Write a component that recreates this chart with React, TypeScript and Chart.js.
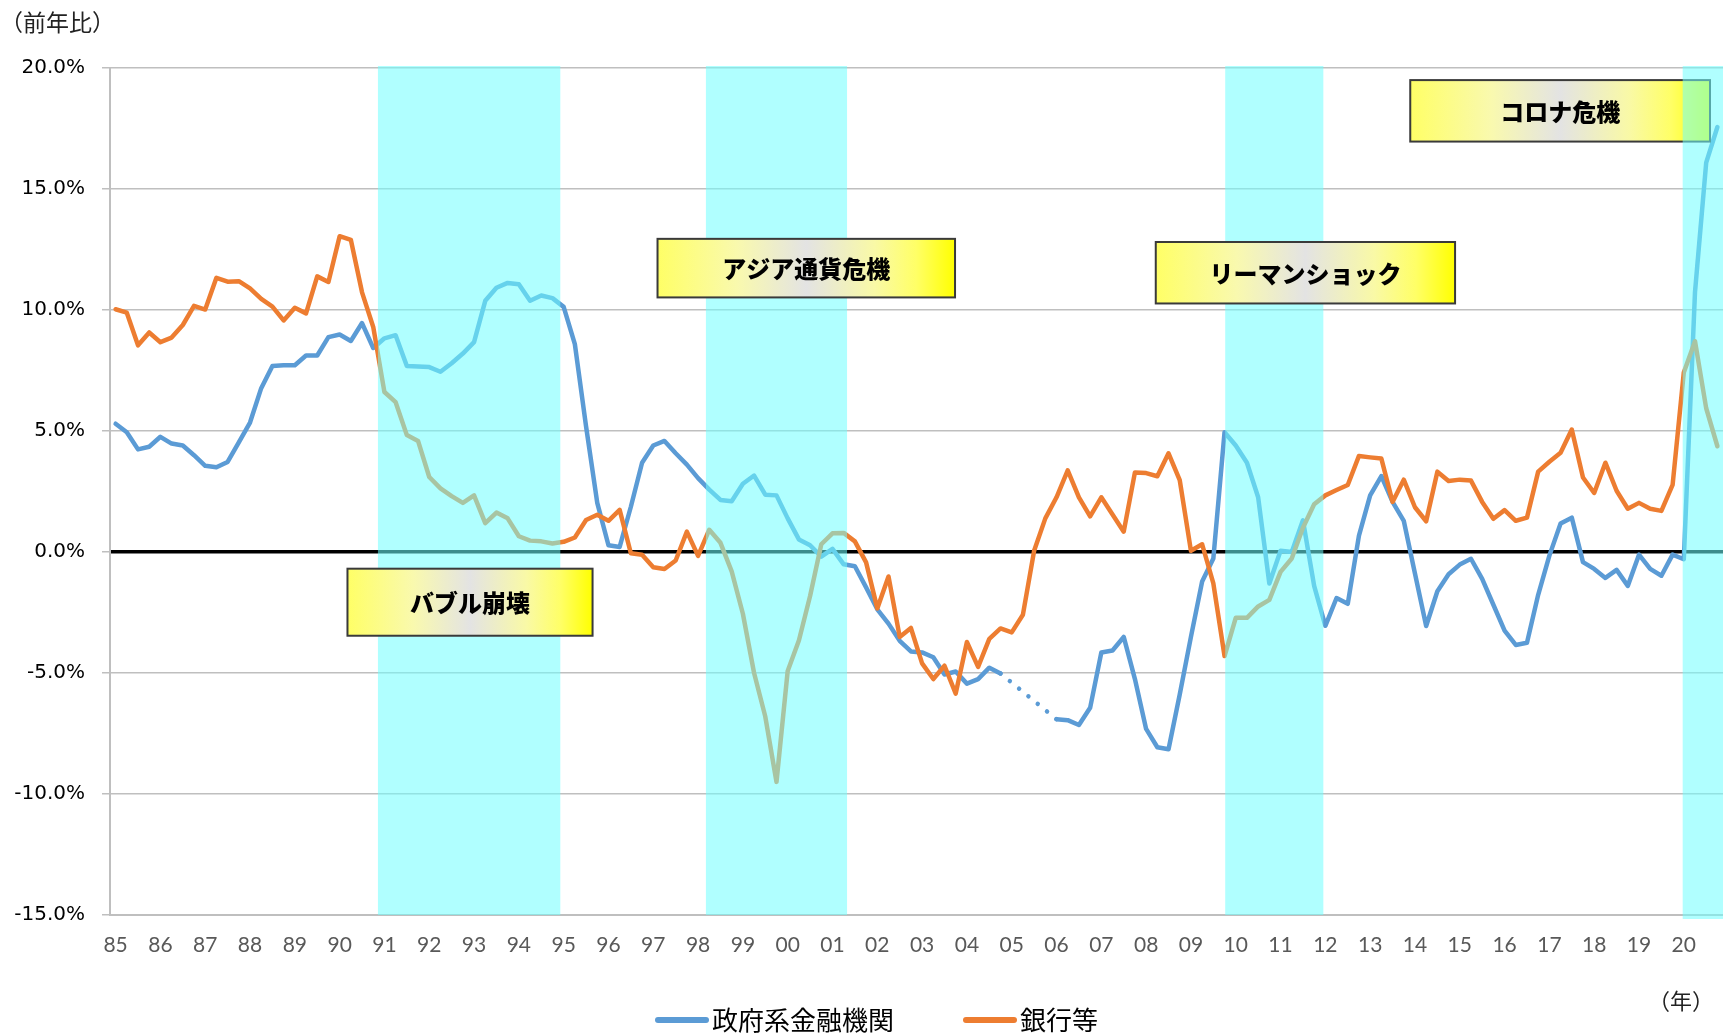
import React, { useEffect, useRef } from "react";
import { Chart, registerables } from "chart.js";

Chart.register(...registerables);

// ---------- data ----------
const yearLabels = [
  "85", "86", "87", "88", "89", "90", "91", "92", "93", "94",
  "95", "96", "97", "98", "99", "00", "01", "02", "03", "04",
  "05", "06", "07", "08", "09", "10", "11", "12", "13", "14",
  "15", "16", "17", "18", "19", "20",
];
const quarterNames = ["Q1", "Q2", "Q3", "Q4"];
const quarterLabels = yearLabels.flatMap((y) => quarterNames.map((q) => `${y}${q}`));

const govSeriesName = "政府系金融機関";
const bankSeriesName = "銀行等";

// 政府系金融機関 (year-on-year %, quarterly 1985Q1 - 2020Q4); null = no data (dotted link)
const govValues: (number | null)[] = [
  5.30, 4.95, 4.24, 4.35, 4.76, 4.48, 4.40, 4.00, 3.56, 3.50,
  3.72, 4.53, 5.35, 6.77, 7.69, 7.72, 7.72, 8.12, 8.12, 8.88,
  8.99, 8.72, 9.46, 8.43, 8.83, 8.96, 7.69, 7.67, 7.64, 7.45,
  7.80, 8.20, 8.67, 10.38, 10.92, 11.12, 11.06, 10.38, 10.60, 10.49,
  10.13, 8.59, 5.19, 2.03, 0.28, 0.21, 1.87, 3.69, 4.40, 4.59,
  4.08, 3.61, 3.05, 2.58, 2.15, 2.10, 2.82, 3.16, 2.37, 2.34,
  1.39, 0.52, 0.28, -0.19, 0.13, -0.51, -0.59, -1.46, -2.37, -2.96,
  -3.67, -4.11, -4.15, -4.35, -5.06, -4.94, -5.44, -5.25, -4.78, -5.02,
  null, null, null, null, -6.91, -6.95, -7.15, -6.44, -4.15, -4.07,
  -3.51, -5.25, -7.31, -8.07, -8.15, -5.89, -3.51, -1.22, -0.27, 4.95,
  4.40, 3.69, 2.26, -1.30, 0.05, 0.00, 1.31, -1.40, -3.05, -1.90,
  -2.14, 0.68, 2.34, 3.14, 2.07, 1.29, -0.89, -3.06, -1.62, -0.92,
  -0.52, -0.28, -1.11, -2.18, -3.25, -3.84, -3.75, -1.77, -0.15, 1.18,
  1.42, -0.42, -0.70, -1.07, -0.74, -1.40, -0.11, -0.70, -0.98, -0.11,
  -0.30, 10.74, 16.09, 17.56,
];

// 銀行等 (year-on-year %, quarterly 1985Q1 - 2020Q4)
const bankValues: number[] = [
  10.03, 9.89, 8.54, 9.07, 8.67, 8.86, 9.38, 10.17, 10.02, 11.33,
  11.17, 11.19, 10.89, 10.46, 10.14, 9.57, 10.09, 9.86, 11.39, 11.16,
  13.05, 12.90, 10.73, 9.30, 6.61, 6.19, 4.83, 4.59, 3.10, 2.63,
  2.31, 2.03, 2.34, 1.19, 1.63, 1.39, 0.65, 0.47, 0.44, 0.35,
  0.42, 0.60, 1.32, 1.54, 1.29, 1.74, -0.05, -0.11, -0.63, -0.70,
  -0.35, 0.84, -0.16, 0.92, 0.38, -0.80, -2.55, -5.00, -6.80, -9.50,
  -4.92, -3.66, -1.82, 0.32, 0.77, 0.79, 0.44, -0.43, -2.33, -1.01,
  -3.51, -3.14, -4.60, -5.25, -4.70, -5.85, -3.72, -4.75, -3.59, -3.16,
  -3.32, -2.59, 0.05, 1.39, 2.26, 3.37, 2.26, 1.47, 2.26, 1.55,
  0.84, 3.29, 3.26, 3.13, 4.08, 2.97, 0.05, 0.32, -1.30, -4.30,
  -2.72, -2.72, -2.25, -1.98, -0.82, -0.27, 1.00, 1.97, 2.34, 2.56,
  2.77, 3.97, 3.91, 3.86, 2.07, 2.99, 1.85, 1.27, 3.32, 2.93,
  2.99, 2.95, 2.07, 1.37, 1.73, 1.29, 1.42, 3.32, 3.73, 4.10,
  5.06, 3.08, 2.44, 3.69, 2.53, 1.79, 2.03, 1.79, 1.70, 2.77,
  7.42, 8.71, 5.94, 4.37,
];

// crisis periods (shaded), in fractional years
const crisisBands = [
  { from: 1990.98, to: 1995.05 },
  { from: 1998.3, to: 2001.45 },
  { from: 2009.89, to: 2012.08 },
  { from: 2020.1, to: 2021.0 },
];

// crisis labels: years on x, % values on y
const crisisLabels = [
  { text: "バブル崩壊", from: 1990.3, to: 1995.77, top: -0.69, bottom: -3.46, underShade: false },
  { text: "アジア通貨危機", from: 1997.22, to: 2003.86, top: 12.94, bottom: 10.52, underShade: false },
  { text: "リーマンショック", from: 2008.34, to: 2015.02, top: 12.81, bottom: 10.27, underShade: false },
  { text: "コロナ危機", from: 2014.02, to: 2020.71, top: 19.5, bottom: 16.96, underShade: true },
];

const yAxisTitle = "（前年比）";
const xAxisUnit = "（年）";
const firstYear = 1985;

const BLUE = "#5B9BD5";
const ORANGE = "#ED7D31";
const SHADE = "rgba(111,255,255,0.55)";
const CJK = '"Noto Sans CJK JP", "Noto Sans CJK SC", sans-serif';

const yearToIndex = (yr: number) => (yr - firstYear) * 4 - 0.5;

const overlayPlugin = {
  id: "crisisOverlay",
  afterDatasetsDraw(chart: any) {
    const { ctx, chartArea, scales } = chart;
    const x = scales.x;
    const y = scales.y;
    const px = (yr: number) => x.getPixelForValue(yearToIndex(yr));

    const drawLabel = (a: any) => {
      const x0 = px(a.from);
      const x1 = px(a.to);
      const y0 = y.getPixelForValue(a.top);
      const y1 = y.getPixelForValue(a.bottom);
      ctx.save();
      const g = ctx.createLinearGradient(x0, 0, x1, 0);
      g.addColorStop(0, "#FFFF66");
      g.addColorStop(0.27, "#F9F9AE");
      g.addColorStop(0.5, "#E3E3E3");
      g.addColorStop(0.73, "#F9F9A6");
      g.addColorStop(0.87, "#FFFF66");
      g.addColorStop(1, "#FFFF00");
      ctx.fillStyle = g;
      ctx.fillRect(x0, y0, x1 - x0, y1 - y0);
      ctx.strokeStyle = "#3A3A3A";
      ctx.lineWidth = 2;
      ctx.strokeRect(x0, y0, x1 - x0, y1 - y0);
      ctx.fillStyle = "#000";
      ctx.font = `900 24px ${CJK}`;
      ctx.textAlign = "center";
      ctx.textBaseline = "middle";
      ctx.fillText(a.text, (x0 + x1) / 2, (y0 + y1) / 2 + 1);
      ctx.restore();
    };

    crisisLabels.filter((a) => a.underShade).forEach(drawLabel);

    ctx.save();
    ctx.fillStyle = SHADE;
    crisisBands.forEach((b, k) => {
      const x0 = px(b.from);
      const x1 = Math.min(px(b.to), chartArea.right + 2);
      const top = chartArea.top - 2;
      const bottom = chartArea.bottom + (k === crisisBands.length - 1 ? 4 : 0);
      ctx.fillRect(x0, top, x1 - x0, bottom - top);
    });
    ctx.restore();

    crisisLabels.filter((a) => !a.underShade).forEach(drawLabel);
  },
  afterDraw(chart: any) {
    const { ctx } = chart;
    ctx.save();
    // axis title
    ctx.fillStyle = "#222";
    ctx.font = `23px ${CJK}`;
    ctx.textAlign = "left";
    ctx.textBaseline = "middle";
    ctx.fillText(yAxisTitle, 0, 22);
    // year unit
    ctx.font = `22px ${CJK}`;
    ctx.textAlign = "right";
    ctx.fillText(xAxisUnit, 1714, 1001);

    // legend
    ctx.font = `26px ${CJK}`;
    ctx.textAlign = "left";
    let lx = 655;
    const ly = 1020;
    chart.data.datasets.forEach((ds: any) => {
      ctx.strokeStyle = ds.borderColor;
      ctx.lineWidth = 6;
      ctx.lineCap = "round";
      ctx.beginPath();
      ctx.moveTo(lx + 3, ly);
      ctx.lineTo(lx + 51, ly);
      ctx.stroke();
      lx += 57;
      ctx.fillStyle = "#000";
      ctx.fillText(ds.label, lx, ly);
      lx += ctx.measureText(ds.label).width + 69;
    });
    ctx.restore();
  },
};

export default function App() {
  const canvasRef = useRef<HTMLCanvasElement | null>(null);

  useEffect(() => {
    document.body.style.margin = "0";
    const canvas = canvasRef.current;
    if (!canvas) return;
    const chart = new Chart(canvas, {
      type: "line",
      data: {
        labels: quarterLabels,
        datasets: [
          {
            label: govSeriesName,
            data: govValues,
            borderColor: BLUE,
            backgroundColor: BLUE,
            borderWidth: 4.5,
            pointRadius: 0,
            tension: 0,
            spanGaps: true,
            borderCapStyle: "round",
            borderJoinStyle: "round",
            order: 1,
            segment: {
              borderDash: (c: any) => (c.p0.skip || c.p1.skip ? [0.01, 12] : undefined),
            },
          } as any,
          {
            label: bankSeriesName,
            data: bankValues,
            borderColor: ORANGE,
            backgroundColor: ORANGE,
            borderWidth: 4.5,
            pointRadius: 0,
            tension: 0,
            borderCapStyle: "round",
            borderJoinStyle: "round",
            order: 0,
          } as any,
        ],
      },
      options: {
        responsive: false,
        animation: false,
        layout: { autoPadding: false, padding: { top: 68, left: 0, right: 0, bottom: 0 } },
        plugins: {
          legend: { display: false },
          tooltip: { enabled: false },
          title: { display: false },
        },
        scales: {
          x: {
            type: "category",
            offset: true,
            grid: { display: false, drawTicks: false, tickLength: 0 },
            border: { display: true, color: "#BFBFBF", width: 2 },
            ticks: {
              autoSkip: false,
              maxRotation: 0,
              minRotation: 0,
              padding: 18,
              color: "#595959",
              font: { family: "Lato", size: 21 },
              callback: (_v: any, i: number) => (i % 4 === 0 ? yearLabels[i / 4] : ""),
            },
            afterFit: (s: any) => {
              s.height = 118;
              s.paddingLeft = 0;
              s.paddingRight = 0;
            },
          },
          y: {
            min: -15,
            max: 20,
            grid: {
              color: (c: any) => (c.tick && c.tick.value === 0 ? "#000000" : "#BFBFBF"),
              lineWidth: (c: any) => (c.tick && c.tick.value === 0 ? 3.5 : 1.5),
              tickColor: "#BFBFBF",
              tickWidth: 1.5,
              tickLength: 8,
              drawTicks: true,
            },
            border: { display: true, color: "#BFBFBF", width: 2 },
            ticks: {
              stepSize: 5,
              padding: 17,
              color: "#000",
              font: { family: "DejaVu Sans", size: 20 },
              callback: (v: any) => `${Number(v).toFixed(1)}%`,
            },
            afterFit: (s: any) => {
              s.width = 110;
            },
          },
        },
      } as any,
      plugins: [overlayPlugin],
    });
    return () => chart.destroy();
  }, []);

  return (
    <div style={{ width: 1723, height: 1033, position: "relative", background: "#fff" }}>
      <canvas ref={canvasRef} width={1723} height={1033} style={{ display: "block", width: 1723, height: 1033 }} />
    </div>
  );
}
